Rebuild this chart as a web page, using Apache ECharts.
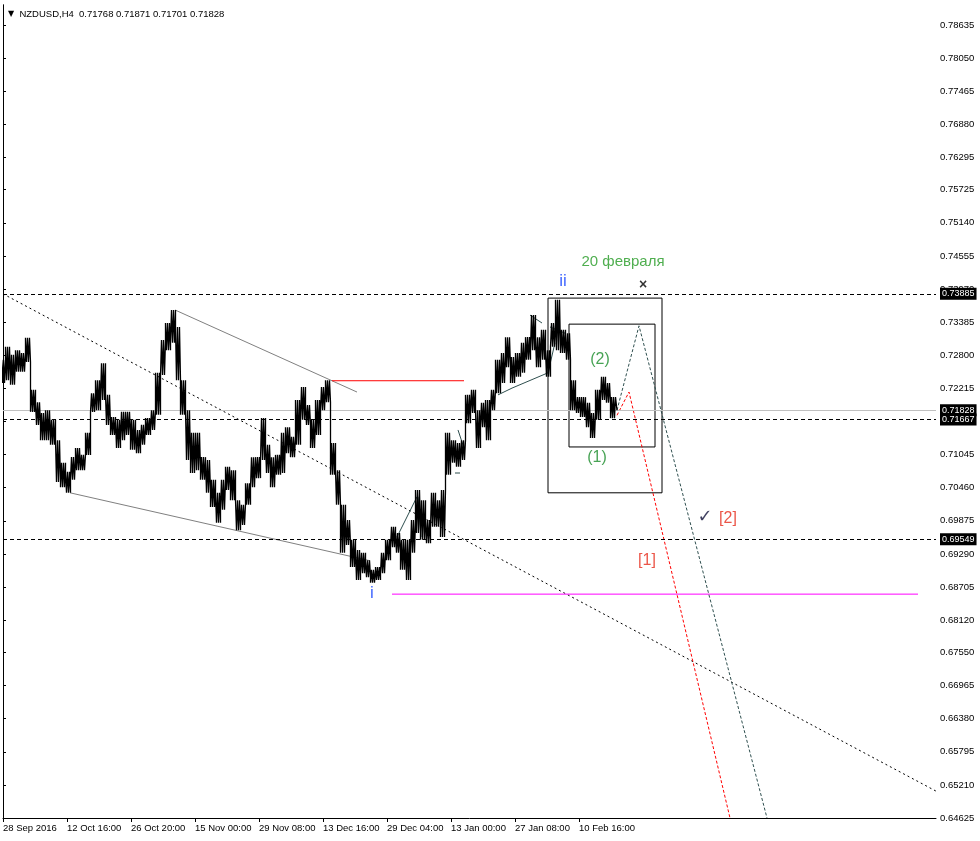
<!DOCTYPE html>
<html><head><meta charset="utf-8">
<script src="https://cdn.jsdelivr.net/npm/echarts@6/dist/echarts.min.js"></script>
<style>html,body{margin:0;padding:0;background:#fff}#c{width:980px;height:841px}</style>
</head><body><div id="c"></div>
<script>
// ---------- data ----------
const SYMBOL = 'NZDUSD,H4';
const LAST_OHLC = ['0.71768', '0.71871', '0.71701', '0.71828'];
const STEP = 5;            // bars per sampled group
const HIGH = [
 .7272,.7295,.7281,.7289,.7284,.7311,.7219,.7197,.7178,.7183,
 .7166,.7130,.7090,.7074,.7100,.7116,.7104,.7143,.7213,.7236,
 .7266,.7210,.7171,.7166,.7180,.7180,.7166,.7148,.7157,.7169,
 .7183,.7249,.7307,.7337,.7360,.7330,.7236,.7183,.7143,.7143,
 .7100,.7095,.7060,.7037,.7060,.7083,.7077,.7024,.7016,.7054,
 .7100,.7100,.7169,.7122,.7100,.7104,.7143,.7153,.7136,.7201,
 .7224,.7192,.7166,.7201,.7224,.7236,.7125,.7077,.7016,.6989,
 .6954,.6936,.6931,.6918,.6901,.6906,.6931,.6954,.6977,.6966,
 .6954,.6954,.6989,.7042,.7024,.6989,.7037,.7024,.7042,.7143,
 .7130,.7125,.7130,.7210,.7219,.7183,.7196,.7201,.7219,.7272,
 .7284,.7312,.7277,.7284,.7302,.7312,.7351,.7312,.7325,.7289,
 .7337,.7378,.7325,.7319,.7236,.7206,.7206,.7196,.7178,.7219,
 .7242,.7231,.7206
];
const LOW = [
 .7231,.7236,.7228,.7251,.7251,.7268,.7180,.7157,.7130,.7130,
 .7122,.7056,.7047,.7037,.7060,.7077,.7077,.7104,.7180,.7183,
 .7201,.7157,.7139,.7116,.7130,.7139,.7113,.7107,.7122,.7139,
 .7148,.7175,.7245,.7289,.7302,.7236,.7175,.7095,.7072,.7077,
 .7060,.7037,.7012,.6984,.7007,.7042,.7024,.6971,.6980,.7016,
 .7047,.7063,.7095,.7072,.7047,.7069,.7072,.7107,.7100,.7122,
 .7166,.7157,.7116,.7139,.7183,.7197,.7069,.7016,.6931,.6945,
 .6906,.6883,.6895,.6888,.6878,.6883,.6895,.6918,.6941,.6931,
 .6901,.6883,.6931,.6966,.6954,.6948,.6977,.6977,.6959,.7069,
 .7090,.7083,.7095,.7160,.7178,.7116,.7153,.7130,.7183,.7213,
 .7231,.7259,.7231,.7242,.7249,.7272,.7289,.7259,.7272,.7242,
 .7295,.7289,.7284,.7272,.7183,.7178,.7171,.7153,.7134,.7166,
 .7201,.7196,.7169
];
const LAST_BAR = 614;
const LAST_CLOSE = 0.71828;

const X_TICK_LABELS = ['28 Sep 2016','12 Oct 16:00','26 Oct 20:00','15 Nov 00:00','29 Nov 08:00',
  '13 Dec 16:00','29 Dec 04:00','13 Jan 00:00','27 Jan 08:00','10 Feb 16:00'];
const X_TICK_STEP = 64;
const X_MAX = 933;
const Y_TICKS = [0.78635,0.78050,0.77465,0.76880,0.76295,0.75725,0.75140,0.74555,0.73970,0.73385,
  0.72800,0.72215,0.71630,0.71045,0.70460,0.69875,0.69290,0.68705,0.68120,0.67550,0.66965,
  0.66380,0.65795,0.65210,0.64625];
const Y_MIN = 0.64625, Y_MAX = 0.78988;

const DASHED_LEVELS = [0.73885, 0.71667, 0.69549];
const BID_LEVEL = 0.71828;

const DIAG_LINE = [[0, 0.73885], [933, 0.6510]];
const CHANNEL_UP = [[172, 0.7360], [354, 0.7215]];
const CHANNEL_DOWN = [[67, 0.7037], [367, 0.6917]];
const RED_LEVEL = [[329, 0.7235], [461, 0.7235]];
const MAGENTA_LEVEL = [[389, 0.6858], [915, 0.6858]];
const WAVE_LINES = [
  [[394, 0.6959], [414, 0.7030]],
  [[415, 0.7030], [418, 0.6959]],
  [[452, 0.7072], [457, 0.7072]],
  [[455, 0.7148], [461, 0.7116]],
  [[495, 0.7210], [509, 0.7222]],
  [[509, 0.7222], [545, 0.7249]],
  [[527, 0.7351], [539, 0.7337]],
  [[545, 0.7249], [552, 0.7302]],
  [[547, 0.7330], [562, 0.7319]]
];
const BOX_OUTER = [[545, 0.7381], [659, 0.7037]];
const BOX_INNER = [[566, 0.7335], [652, 0.7118]];
const PATH_GREY = [[614, 0.7183], [636, 0.7332], [764, 0.64625]];
const PATH_RED = [[614, 0.7174], [626, 0.7215], [727, 0.64625]];

const LABELS = [
  {text: 'ii', x: 560, y: 0.7410, color: '#1040ff', size: 17},
  {text: 'i', x: 369, y: 0.6860, color: '#1040ff', size: 17},
  {text: '20 февраля', x: 620, y: 0.7445, color: '#239a23', size: 15},
  {text: '×', x: 640, y: 0.7404, color: '#000', size: 14, bold: true},
  {text: '(2)', x: 597, y: 0.7272, color: '#1a8c2a', size: 16},
  {text: '(1)', x: 594, y: 0.7100, color: '#1a8c2a', size: 16},
  {text: '[1]', x: 644, y: 0.6917, color: '#e62a1a', size: 16},
  {text: '[2]', x: 725, y: 0.6991, color: '#e62a1a', size: 16},
  {text: '✓', x: 702, y: 0.6993, color: '#101038', size: 18, bold: true, font: 'DejaVu Sans'}
];

// ---------- build ----------
const FONT = 'Liberation Sans';
const pricePts = [];
HIGH.forEach((h, i) => {
  const x = i * STEP, l = LOW[i];
  const seq = i % 2 === 0 ? [l, h, l, h, l, h] : [h, l, h, l, h, l];
  [-2.5, -1.5, -0.5, 0.5, 1.5, 2.5].forEach((dx, k) => pricePts.push([x + dx, seq[k]]));
});
pricePts.push([LAST_BAR, LAST_CLOSE]);

function lineSeries(data, color, type, width) {
  return {type: 'line', data, symbol: 'none', showSymbol: false, animation: false, silent: true,
    lineStyle: {color, width: width || 1, type: type || 'solid'}, z: 4};
}
function rect(b) {
  const [[x1, y1], [x2, y2]] = b;
  return [[x1, y1], [x2, y1], [x2, y2], [x1, y2], [x1, y1]];
}
const boxLabel = {show: true, position: 'end', distance: 4, backgroundColor: '#000', color: '#fff',
  fontSize: 9, fontFamily: FONT, padding: [2, 2, 1, 2], formatter: '{b}'};

const series = [];
series.push(lineSeries(DIAG_LINE, '#000', [2, 3]));
series.push(lineSeries(CHANNEL_UP, '#808080'));
series.push(lineSeries(CHANNEL_DOWN, '#808080'));
series.push(lineSeries(RED_LEVEL, '#ff0000'));
series.push(lineSeries(MAGENTA_LEVEL, '#ff00ff'));
WAVE_LINES.forEach(w => series.push(lineSeries(w, '#2f4f4f')));
series.push(lineSeries(rect(BOX_OUTER), '#000'));
series.push(lineSeries(rect(BOX_INNER), '#000'));
series.push(lineSeries(PATH_GREY, '#2f4f4f', [3, 2]));
series.push(lineSeries(PATH_RED, '#ff0000', [3, 2]));
series.push({
  type: 'line', data: pricePts, symbol: 'none', showSymbol: false, animation: false, silent: true,
  lineStyle: {color: '#000', width: 1.3}, z: 5,
  markLine: {
    symbol: ['none', 'none'], silent: true, animation: false, precision: 5,
    data: [
      {name: BID_LEVEL.toFixed(5), yAxis: BID_LEVEL,
        lineStyle: {color: '#c0c0c0', type: 'solid', width: 1}, label: boxLabel},
      ...DASHED_LEVELS.map(v => ({name: v.toFixed(5), yAxis: v,
        lineStyle: {color: '#000', type: [4, 3], width: 1}, label: boxLabel}))
    ]
  }
});
series.push({
  type: 'scatter', symbolSize: 0, animation: false, silent: true, z: 6,
  data: LABELS.map(d => ({
    value: [d.x, d.y],
    label: {show: true, position: 'inside', formatter: d.text, color: d.color, fontSize: d.size,
      fontWeight: d.bold ? 'bold' : 'normal', fontFamily: d.font || FONT}
  }))
});

const chart = echarts.init(document.getElementById('c'), null, {renderer: 'canvas'});
chart.setOption({
  animation: false,
  backgroundColor: '#fff',
  title: {
    text: '{t|▼}  ' + SYMBOL + '  ' + LAST_OHLC.join(' '),
    left: 3, top: 4,
    textStyle: {fontSize: 9.5, fontWeight: 'normal', color: '#000', fontFamily: FONT,
      rich: {t: {fontSize: 8, color: '#000', fontFamily: 'DejaVu Sans'}}}
  },
  grid: {left: 3, right: 44, top: 5, bottom: 23, containLabel: false},
  xAxis: {
    type: 'value', min: 0, max: X_MAX,
    axisLine: {show: true, lineStyle: {color: '#000', width: 1}},
    axisTick: {show: true, length: 4, lineStyle: {color: '#000'},
      customValues: X_TICK_LABELS.map((_, i) => i * X_TICK_STEP)},
    axisLabel: {
      customValues: X_TICK_LABELS.map((_, i) => i * X_TICK_STEP),
      formatter: v => X_TICK_LABELS[Math.round(v / X_TICK_STEP)] || '',
      align: 'left', margin: 5, fontSize: 9.5, color: '#000', fontFamily: FONT, hideOverlap: false
    },
    splitLine: {show: false}
  },
  yAxis: [{
    type: 'value', position: 'right', min: Y_MIN, max: Y_MAX, scale: true,
    axisLine: {show: true, lineStyle: {color: '#000', width: 1}},
    axisTick: {show: true, length: 3, lineStyle: {color: '#000'}, customValues: Y_TICKS},
    axisLabel: {customValues: Y_TICKS, formatter: v => v.toFixed(5), margin: 4, fontSize: 9.5,
      color: '#000', fontFamily: FONT, hideOverlap: false},
    splitLine: {show: false}
  }, {
    type: 'value', position: 'left', min: Y_MIN, max: Y_MAX, scale: true,
    axisLine: {show: true, lineStyle: {color: '#000', width: 1}},
    axisTick: {show: false}, axisLabel: {show: false}, splitLine: {show: false}
  }],
  series
});
</script>
</body></html>
